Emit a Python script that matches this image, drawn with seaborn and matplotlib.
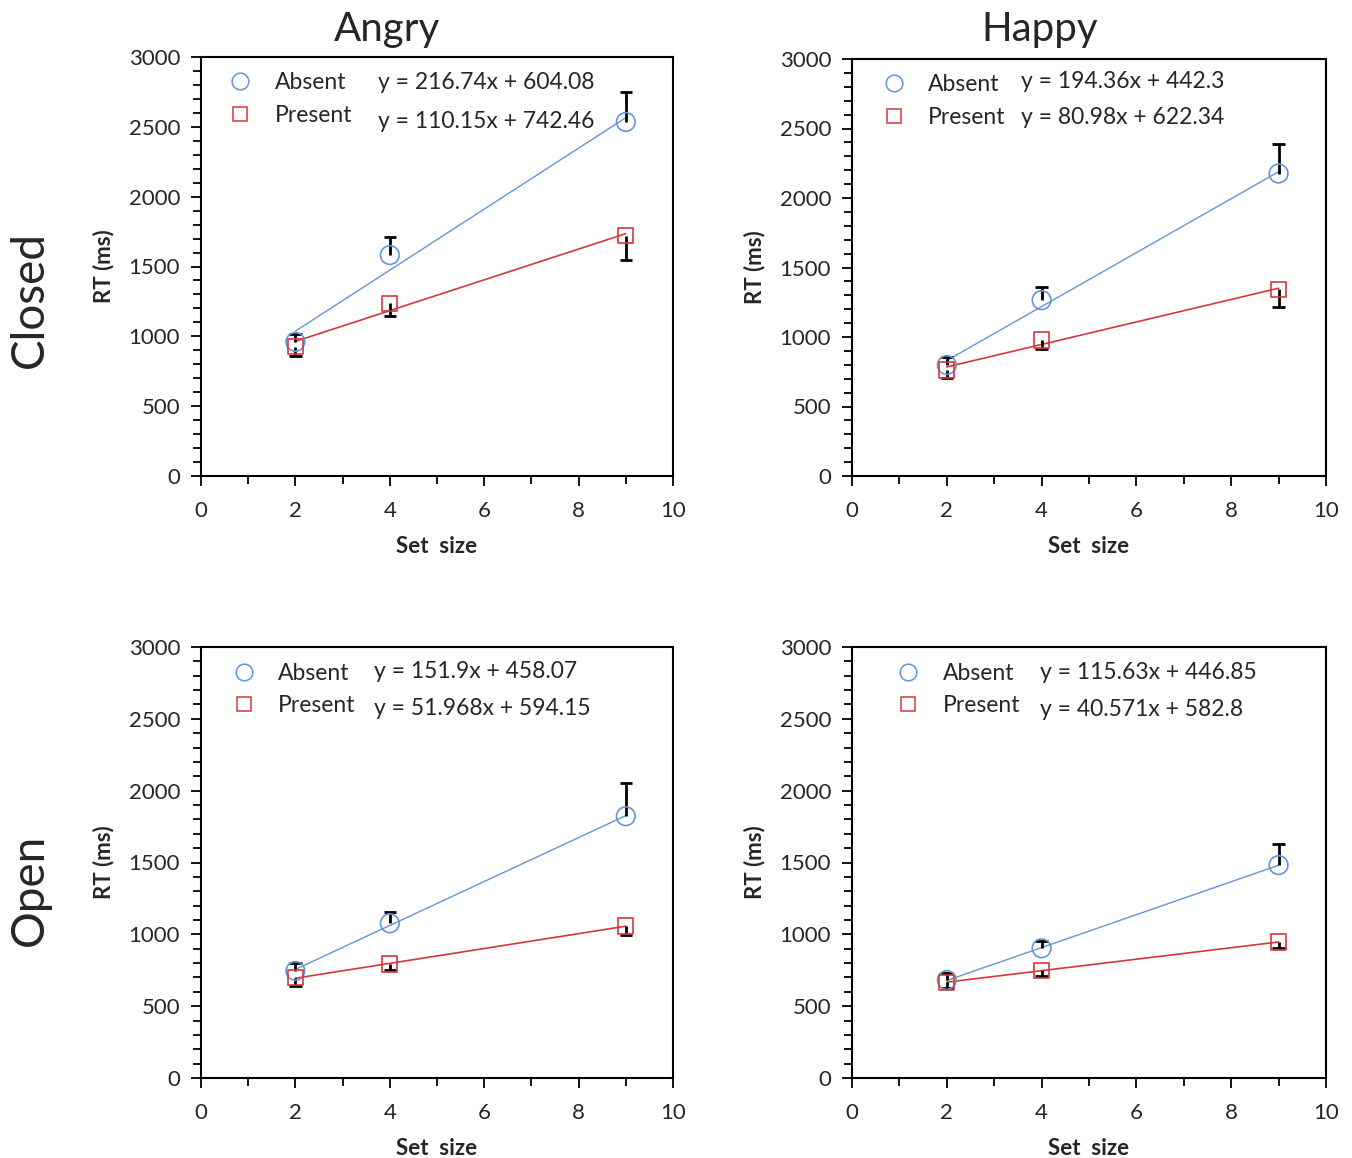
import matplotlib
matplotlib.use('Agg')
import matplotlib.pyplot as plt
from matplotlib.lines import Line2D
from matplotlib.ticker import MultipleLocator
import numpy as np
import seaborn as sns

# RT by set size, target absent/present, per emotion and eye condition
set_sizes = [2, 4, 9]

angry_closed_absent = [960, 1582, 2535]
angry_closed_absent_err = [60, 132, 215]
angry_closed_present = [926, 1237, 1720]
angry_closed_present_err = [70, 90, 170]

happy_closed_absent = [798, 1265, 2176]
happy_closed_absent_err = [55, 92, 216]
happy_closed_present = [762, 978, 1342]
happy_closed_present_err = [55, 65, 125]

angry_open_absent = [745, 1077, 1822]
angry_open_absent_err = [53, 81, 232]
angry_open_present = [698, 793, 1058]
angry_open_present_err = [55, 41, 63]

happy_open_absent = [682, 903, 1482]
happy_open_absent_err = [47, 51, 147]
happy_open_present = [665, 750, 946]
happy_open_present_err = [41, 42, 42]

eq_absent = ['y = 216.74x + 604.08', 'y = 194.36x + 442.3',
             'y = 151.9x + 458.07', 'y = 115.63x + 446.85']
eq_present = ['y = 110.15x + 742.46', 'y = 80.98x + 622.34',
              'y = 51.968x + 594.15', 'y = 40.571x + 582.8']

col_titles = ['Angry', 'Happy']
row_titles = ['Closed', 'Open']

BLUE = '#6495d4'
RED = '#d2383c'

sns.set_style('white')
plt.rcParams['font.family'] = ['Lato', 'DejaVu Sans']

fig = plt.figure(figsize=(13.52, 11.58), dpi=100)
W, H = 1352, 1158

# axes boxes in pixels: left, top, right, bottom
boxes = [(201, 57, 673, 476), (852, 59, 1326, 476),
         (201, 647, 673, 1078), (852, 647, 1326, 1078)]

panels = [
    (angry_closed_absent, angry_closed_absent_err, angry_closed_present, angry_closed_present_err),
    (happy_closed_absent, happy_closed_absent_err, happy_closed_present, happy_closed_present_err),
    (angry_open_absent, angry_open_absent_err, angry_open_present, angry_open_present_err),
    (happy_open_absent, happy_open_absent_err, happy_open_present, happy_open_present_err),
]

# legend anchor (axes coords), equation x, equation row y's
leg_pos = [(0.035, 0.985, 0.375, 0.940, 0.845),
           (0.040, 0.985, 0.357, 0.945, 0.860),
           (0.042, 0.985, 0.367, 0.944, 0.858),
           (0.070, 0.985, 0.397, 0.940, 0.856)]

for i, (b, data) in enumerate(zip(boxes, panels)):
    l, t, r, bt = b
    ax = fig.add_axes([l / W, 1 - bt / H, (r - l) / W, (bt - t) / H])
    ab, ab_err, pr, pr_err = data

    sns.regplot(x=set_sizes, y=ab, ax=ax, scatter=False, ci=None, truncate=True,
                line_kws=dict(color=BLUE, lw=1.0))
    sns.regplot(x=set_sizes, y=pr, ax=ax, scatter=False, ci=None, truncate=True,
                line_kws=dict(color=RED, lw=1.2))

    # error bars: plus for absent, minus for present (cap only at the far end)
    x = np.array(set_sizes, dtype=float)
    ab = np.array(ab)
    pr = np.array(pr)
    ax.vlines(x, ab, ab + np.array(ab_err), color='black', lw=2, zorder=4)
    ax.hlines(ab + np.array(ab_err), x - 0.13, x + 0.13, color='black', lw=2, zorder=4)
    ax.vlines(x, pr, pr - np.array(pr_err), color='black', lw=2, zorder=4)
    ax.hlines(pr - np.array(pr_err), x - 0.13, x + 0.13, color='black', lw=2, zorder=4)

    sns.scatterplot(x=set_sizes, y=ab, ax=ax, marker='o', s=180, facecolor='none',
                    edgecolor=BLUE, linewidth=1.2, zorder=5)
    sns.scatterplot(x=set_sizes, y=pr, ax=ax, marker='s', s=120, facecolor='none',
                    edgecolor=RED, linewidth=1.2, zorder=5)

    ax.set_xlim(0, 10)
    ax.set_ylim(0, 3000)
    ax.xaxis.set_major_locator(MultipleLocator(2))
    ax.xaxis.set_minor_locator(MultipleLocator(1))
    ax.yaxis.set_major_locator(MultipleLocator(500))
    ax.yaxis.set_minor_locator(MultipleLocator(100))
    ax.tick_params(which='both', direction='out', color='black', width=1.3,
                   labelsize=16, bottom=True, left=True)
    ax.tick_params(axis='x', which='major', length=7, pad=11)
    ax.tick_params(axis='y', which='major', length=7, pad=8)
    ax.tick_params(which='minor', length=6)
    for s in ax.spines.values():
        s.set_color('black')
        s.set_linewidth(1.5)

    ax.set_xlabel('Set  size', fontsize=16, fontweight='bold', labelpad=11)
    ax.set_ylabel('RT (ms)', fontsize=16, fontweight='bold', labelpad=10)

    handles = [Line2D([], [], ls='none', marker='o', ms=12, mfc='none', mec=BLUE, mew=1.1),
               Line2D([], [], ls='none', marker='s', ms=10, mfc='none', mec=RED, mew=1.1)]
    lx, ly, ex, ey1, ey2 = leg_pos[i]
    ax.legend(handles, ['Absent', 'Present'], loc='upper left', bbox_to_anchor=(lx, ly),
              frameon=False, fontsize=16.5, handletextpad=0.9, labelspacing=0.5,
              borderaxespad=0, handlelength=1.2)
    ax.text(ex, ey1, eq_absent[i], transform=ax.transAxes, fontsize=16.5, va='center')
    ax.text(ex, ey2, eq_present[i], transform=ax.transAxes, fontsize=16.5, va='center')

fig.text(387 / W, 1 - 30 / H, col_titles[0], fontsize=29, ha='center', va='center')
fig.text(1040 / W, 1 - 30 / H, col_titles[1], fontsize=29, ha='center', va='center')
fig.text(30 / W, 1 - 300 / H, row_titles[0], fontsize=33, ha='center', va='center', rotation=90)
fig.text(30 / W, 1 - 890 / H, row_titles[1], fontsize=33, ha='center', va='center', rotation=90)

fig.savefig('out.png', dpi=100)
